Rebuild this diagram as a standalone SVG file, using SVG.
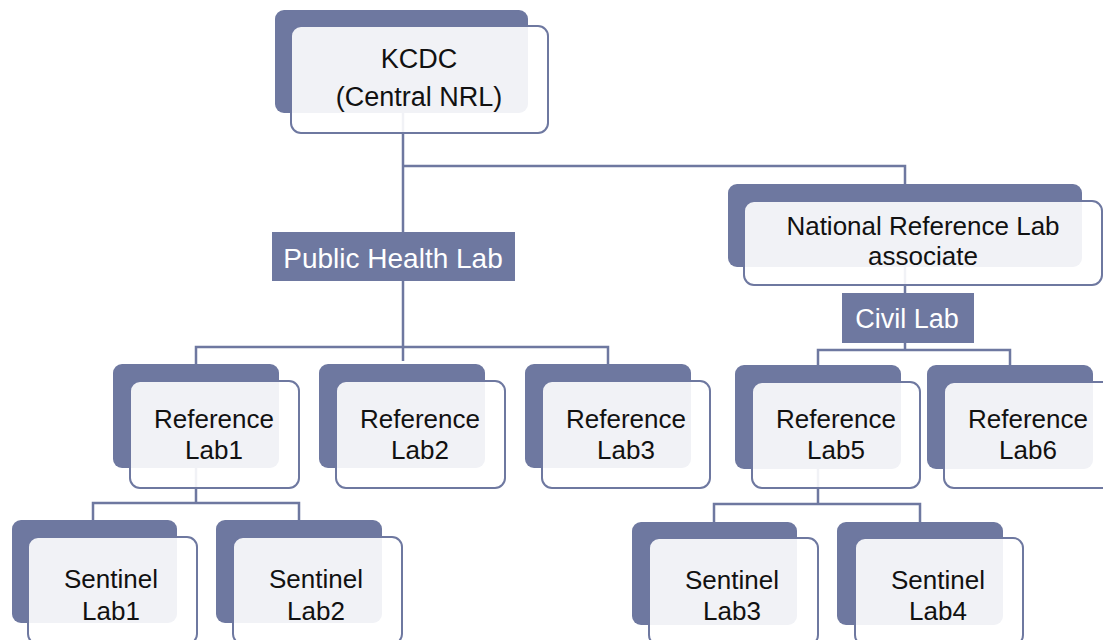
<svg xmlns="http://www.w3.org/2000/svg" width="1103" height="640" viewBox="0 0 1103 640">
<style>
.bg{fill:#6e78a0}
.fr{fill:#ffffff;fill-opacity:0.9;stroke:#6e78a0;stroke-width:2}
.t{font-family:"Liberation Sans",Arial,sans-serif;font-size:26px;fill:#111;text-anchor:middle}
.k{font-size:27px}
.w{font-family:"Liberation Sans",Arial,sans-serif;font-size:28px;fill:#ffffff;text-anchor:middle}
.c{fill:none;stroke:#6e78a0;stroke-width:2.5}
</style>
<rect width="1103" height="640" fill="#ffffff"/>
<g id="connectors">
<path class="c" d="M403 113V361M403 166H905V184M196 364V347H608V364M905 267V350M818 365V350H1010V365M196 468V503M93 520V503H299V520M818 469V504M714 522V504H920V522"/>
</g>
<g id="kcdc">
<rect class="bg" x="275" y="10" width="253" height="103" rx="9"/>
<rect class="fr" x="291" y="26" width="257" height="107" rx="10"/>
<text class="t k" x="419" y="68">KCDC</text>
<text class="t k" x="419" y="106">(Central NRL)</text>
</g>
<g id="public-health-lab">
<rect class="bg" x="272" y="232" width="243" height="49"/>
<text class="w" x="393" y="268">Public Health Lab</text>
</g>
<g id="nrl-associate">
<rect class="bg" x="728" y="184" width="354" height="83" rx="9"/>
<rect class="fr" x="744" y="201" width="358" height="84" rx="10"/>
<text class="t" x="923" y="235">National Reference Lab</text>
<text class="t" x="923" y="265">associate</text>
</g>
<g id="civil-lab">
<rect class="bg" x="842" y="293" width="132" height="50"/>
<text class="w" x="907" y="328" style="font-size:27px">Civil Lab</text>
</g>
<g id="ref-lab1">
<rect class="bg" x="113" y="364" width="166" height="104" rx="9"/>
<rect class="fr" x="130" y="381" width="169" height="107" rx="10"/>
<text class="t" x="214" y="428">Reference</text>
<text class="t" x="214" y="459">Lab1</text>
</g>
<g id="ref-lab2">
<rect class="bg" x="319" y="364" width="166" height="104" rx="9"/>
<rect class="fr" x="336" y="381" width="169" height="107" rx="10"/>
<text class="t" x="420" y="428">Reference</text>
<text class="t" x="420" y="459">Lab2</text>
</g>
<g id="ref-lab3">
<rect class="bg" x="525" y="364" width="166" height="104" rx="9"/>
<rect class="fr" x="542" y="381" width="168" height="107" rx="10"/>
<text class="t" x="626" y="428">Reference</text>
<text class="t" x="626" y="459">Lab3</text>
</g>
<g id="ref-lab5">
<rect class="bg" x="735" y="365" width="166" height="104" rx="9"/>
<rect class="fr" x="752" y="382" width="168" height="106" rx="10"/>
<text class="t" x="836" y="428">Reference</text>
<text class="t" x="836" y="459">Lab5</text>
</g>
<g id="ref-lab6">
<rect class="bg" x="927" y="365" width="166" height="104" rx="9"/>
<rect class="fr" x="944" y="382" width="169" height="106" rx="10"/>
<text class="t" x="1028" y="428">Reference</text>
<text class="t" x="1028" y="459">Lab6</text>
</g>
<g id="sentinel-lab1">
<rect class="bg" x="12" y="520" width="165" height="103" rx="9"/>
<rect class="fr" x="28" y="537" width="169" height="107" rx="10"/>
<text class="t" x="111" y="588">Sentinel</text>
<text class="t" x="111" y="620">Lab1</text>
</g>
<g id="sentinel-lab2">
<rect class="bg" x="216" y="520" width="166" height="103" rx="9"/>
<rect class="fr" x="233" y="537" width="169" height="107" rx="10"/>
<text class="t" x="316" y="588">Sentinel</text>
<text class="t" x="316" y="620">Lab2</text>
</g>
<g id="sentinel-lab3">
<rect class="bg" x="632" y="522" width="165" height="103" rx="9"/>
<rect class="fr" x="649" y="538" width="169" height="107" rx="10"/>
<text class="t" x="732" y="589">Sentinel</text>
<text class="t" x="732" y="620">Lab3</text>
</g>
<g id="sentinel-lab4">
<rect class="bg" x="837" y="522" width="166" height="103" rx="9"/>
<rect class="fr" x="855" y="538" width="168" height="107" rx="10"/>
<text class="t" x="938" y="589">Sentinel</text>
<text class="t" x="938" y="620">Lab4</text>
</g>
</svg>
